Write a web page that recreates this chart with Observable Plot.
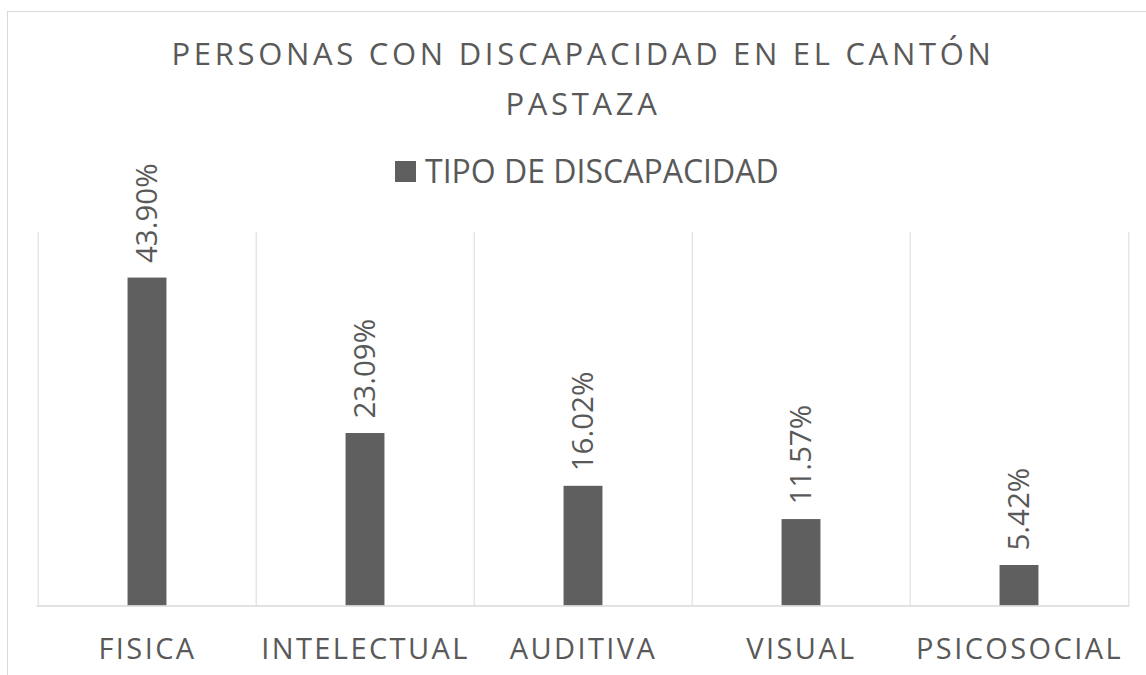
<!DOCTYPE html>
<html>
<head>
<meta charset="utf-8">
<script src="https://cdn.jsdelivr.net/npm/d3@7"></script>
<script src="https://cdn.jsdelivr.net/npm/@observablehq/plot@0.6"></script>
<style>
  html, body { margin: 0; padding: 0; background: #fff; }
  #wrap { position: relative; width: 1146px; height: 675px; overflow: hidden; font-family: "Open Sans", sans-serif; color: #595959; }
  #frame { position: absolute; left: 7px; top: 11px; width: 1150px; height: 700px; border: 1px solid #d9d9d9; box-sizing: border-box; }
  #title { position: absolute; left: 10px; top: 28px; width: 1146px; text-align: center; font-size: 31px; letter-spacing: 3.7px; line-height: 50px; font-weight: 400; }
  #legend { position: absolute; left: 395px; top: 149px; font-size: 32px; line-height: 44px; display: flex; align-items: center; }
  #legend .sw { width: 21px; height: 21px; background: #5f5f5f; margin-right: 9px; }
  #chart { position: absolute; left: 0; top: 0; }
  #chart svg text { font-family: "Open Sans", sans-serif; }
  #chart g[aria-label="x-axis tick label"] text { letter-spacing: 2.4px; }
</style>
</head>
<body>
<div id="wrap">
  <div id="frame"></div>
  <div id="title">PERSONAS CON DISCAPACIDAD EN EL CANTÓN<br>PASTAZA</div>
  <div id="legend"><span class="sw"></span><span id="legtext"></span></div>
  <div id="chart"></div>
</div>
<script>
const categories = ["FISICA", "INTELECTUAL", "AUDITIVA", "VISUAL", "PSICOSOCIAL"];
const values = [43.90, 23.09, 16.02, 11.57, 5.42];
const labels = ["43.90%", "23.09%", "16.02%", "11.57%", "5.42%"];
const seriesName = "TIPO DE DISCAPACIDAD";

document.getElementById("legtext").textContent = seriesName;

const data = categories.map((c, i) => ({ cat: c, value: values[i], label: labels[i] }));

const W = 1146, H = 675;
const mL = 36.5, mR = W - 1129.5, mT = 232, mB = H - 605.5;
const step = (W - mL - mR) / categories.length;
const barW = 39.5;
const inset = (step - barW) / 2;

const chart = Plot.plot({
  width: W,
  height: H,
  marginLeft: mL,
  marginRight: mR,
  marginTop: mT,
  marginBottom: mB,
  style: { background: "transparent", color: "#595959", overflow: "visible" },
  x: { domain: categories, padding: 0, label: null },
  y: { domain: [0, 50], axis: null },
  marks: [
    Plot.ruleX(categories, { x: d => d, dx: -step / 2, y1: 0, y2: 50, stroke: "#d9d9d9", strokeWidth: 1 }),
    Plot.ruleX(categories.slice(-1), { x: d => d, dx: step / 2, y1: 0, y2: 50, stroke: "#d9d9d9", strokeWidth: 1 }),
    Plot.barY(data, { x: "cat", y: "value", fill: "#5f5f5f", insetLeft: inset, insetRight: inset }),
    Plot.ruleY([0], { stroke: "#d9d9d9", strokeWidth: 1.5 }),
    Plot.text(data, { x: "cat", y: "value", text: "label", rotate: -90, textAnchor: "start", lineAnchor: "middle", dy: -15, fontSize: 29.5, fill: "#595959" }),
    Plot.axisX({ tickSize: 0, tickPadding: 32, fontSize: 29, fill: "#595959", label: null })
  ]
});
document.getElementById("chart").appendChild(chart);
</script>
</body>
</html>
